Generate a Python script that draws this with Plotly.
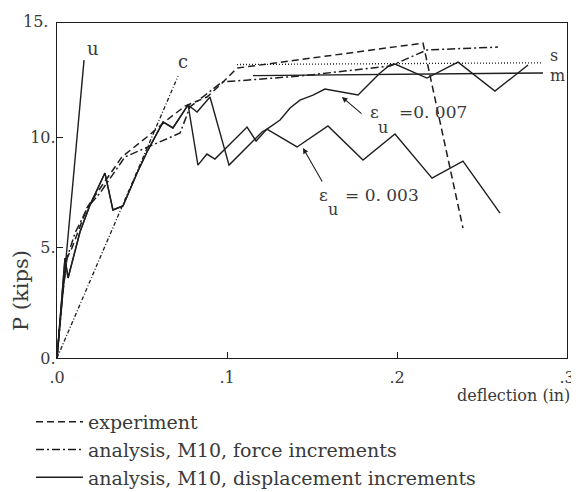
import plotly.graph_objects as go

# ---- data ----
exp_x = [0, 0.0029, 0.0059, 0.0088, 0.0176, 0.0206, 0.0382, 0.0529, 0.0647, 0.0753, 0.0882, 0.0959, 0.1059, 0.2153, 0.2388]
exp_y = [0, 2.62, 4.52, 4.98, 6.79, 7.15, 9.10, 10.0, 10.77, 11.40, 11.81, 12.35, 13.12, 14.25, 5.88]

force_x = [0, 0.0035, 0.0059, 0.0106, 0.0182, 0.0253, 0.040, 0.0724, 0.0782, 0.0859, 0.0971, 0.143, 0.1959, 0.2176, 0.2594]
force_y = [0, 3.08, 4.52, 5.66, 6.83, 7.47, 9.10, 10.18, 11.36, 11.81, 12.49, 12.76, 13.21, 13.94, 14.07]

disp007_x = [0, 0.0047, 0.0065, 0.0135, 0.0194, 0.0282, 0.0329, 0.0388, 0.0471, 0.0535, 0.0624, 0.0682, 0.0771,
             0.0824, 0.0900, 0.1012, 0.1206, 0.1235, 0.1312, 0.1371, 0.1429, 0.1506, 0.1576, 0.1676, 0.1771,
             0.1900, 0.1959, 0.1988, 0.2176, 0.2359, 0.2576, 0.2771]
disp007_y = [0, 4.52, 3.62, 5.70, 6.92, 8.37, 6.70, 6.88, 8.37, 9.41, 10.68, 10.41, 11.45,
             11.13, 11.81, 8.73, 10.23, 10.36, 10.77, 11.31, 11.67, 11.90, 12.17, 12.04, 11.90,
             12.90, 13.26, 13.30, 12.67, 13.39, 12.08, 13.26]

disp003_x = [0, 0.0047, 0.0065, 0.0135, 0.0194, 0.0282, 0.0329, 0.0388, 0.0471, 0.0535, 0.0624, 0.0682, 0.0771,
             0.0829, 0.0882, 0.0929, 0.1118, 0.1171, 0.1235, 0.1412, 0.1594, 0.1800, 0.1988, 0.2206, 0.2388, 0.2606]
disp003_y = [0, 4.52, 3.62, 5.70, 6.92, 8.37, 6.70, 6.88, 8.37, 9.41, 10.68, 10.41, 11.45,
             8.73, 9.23, 9.00, 10.45, 9.82, 10.36, 9.55, 10.50, 8.96, 10.14, 8.14, 8.91, 6.56]

u_x = [0, 0.0159]
u_y = [0, 13.48]
c_x = [0, 0.0712]
c_y = [0, 12.76]
s_x = [0.1059, 0.2859]
s_y = [13.28, 13.36]
m_x = [0.1153, 0.2859]
m_y = [12.78, 12.90]

x_ticks = [0, 0.1, 0.2, 0.3]
x_tick_text = [".0", ".1", ".2", ".3"]
y_ticks = [0, 5, 10]
y_tick_text = ["0.", "5.", "10."]

LINE = "#1e1e1e"
TXT = "#3a3a3a"
FONT = "DejaVu Serif"

fig = go.Figure()

fig.add_trace(go.Scatter(x=u_x, y=u_y, mode="lines", line=dict(color=LINE, width=1.4),
                         showlegend=False, hoverinfo="skip"))
fig.add_trace(go.Scatter(x=c_x, y=c_y, mode="lines", line=dict(color=LINE, width=1.3, dash="4px,2px,1px,2px"),
                         showlegend=False, hoverinfo="skip"))
fig.add_trace(go.Scatter(x=s_x, y=s_y, mode="lines", line=dict(color=LINE, width=1.3, dash="1px,2px"),
                         showlegend=False, hoverinfo="skip"))
fig.add_trace(go.Scatter(x=m_x, y=m_y, mode="lines", line=dict(color=LINE, width=1.4),
                         showlegend=False, hoverinfo="skip"))

fig.add_trace(go.Scatter(x=exp_x, y=exp_y, mode="lines", name="experiment",
                         line=dict(color=LINE, width=1.5, dash="7px,4px"),
                         legendgroup="a", hoverinfo="skip"))
fig.add_trace(go.Scatter(x=force_x, y=force_y, mode="lines", name="analysis, M10, force increments",
                         line=dict(color=LINE, width=1.5, dash="8px,3px,2px,3px"),
                         legendgroup="b", hoverinfo="skip"))
fig.add_trace(go.Scatter(x=disp007_x, y=disp007_y, mode="lines", name="analysis, M10, displacement increments",
                         line=dict(color=LINE, width=1.4),
                         legendgroup="c", hoverinfo="skip"))
fig.add_trace(go.Scatter(x=disp003_x, y=disp003_y, mode="lines",
                         line=dict(color=LINE, width=1.4),
                         legendgroup="c", showlegend=False, hoverinfo="skip"))

ann = []
def txt(x, y, t, size, xref="x", yref="y", xanchor="center", yanchor="middle", angle=0):
    ann.append(dict(x=x, y=y, xref=xref, yref=yref, text=t, showarrow=False,
                    xanchor=xanchor, yanchor=yanchor, textangle=angle,
                    font=dict(family=FONT, size=size, color=TXT)))

# curve labels
txt(0.0212, 14.0, "u", 18)
txt(0.0741, 13.4, "c", 18)
txt(0.2888, 13.68, "s", 16, xanchor="left")
txt(0.2888, 12.80, "m", 16, xanchor="left")
# epsilon labels
txt(0.1865, 11.13, "ε", 17)
txt(0.1918, 10.45, "u", 16)
txt(0.2000, 11.13, "=0. 007", 17, xanchor="left")
txt(0.1570, 7.38, "ε", 17)
txt(0.1624, 6.70, "u", 16)
txt(0.1683, 7.38, "= 0. 003", 17, xanchor="left")
# axis titles and the top tick label
txt(-0.0137, 1.040, "15.", 16, xref="paper", yref="paper", xanchor="right", yanchor="top")
txt(-0.0706, 0.203, "P (kips)", 21, xref="paper", yref="paper", angle=-90)
txt(1.010, -0.113, "deflection (in)", 16, xref="paper", yref="paper", xanchor="right")

# arrows
ann.append(dict(x=0.1676, y=11.81, xref="x", yref="y", ax=0.1800, ay=11.0, axref="x", ayref="y",
                showarrow=True, arrowhead=2, arrowsize=1, arrowwidth=1.1, arrowcolor=LINE, text=""))
ann.append(dict(x=0.1447, y=9.50, xref="x", yref="y", ax=0.1565, ay=7.92, axref="x", ayref="y",
                showarrow=True, arrowhead=2, arrowsize=1, arrowwidth=1.1, arrowcolor=LINE, text=""))

# the page body keeps an 8px margin, so the figure is 8px smaller than the window
fig.update_layout(
    width=571, height=484,
    margin=dict(l=49, r=12, t=15, b=134, autoexpand=False),
    paper_bgcolor="white", plot_bgcolor="white",
    annotations=ann,
    showlegend=True,
    legend=dict(x=23/571, y=1 - 395/484, xref="container", yref="container",
                xanchor="left", yanchor="top", itemwidth=47, tracegroupgap=0,
                traceorder="grouped",
                font=dict(family=FONT, size=19, color=TXT), bgcolor="rgba(0,0,0,0)"),
    xaxis=dict(range=[0, 0.3], tickvals=x_ticks, ticktext=x_tick_text, showgrid=False, zeroline=False,
               showline=True, linecolor=LINE, linewidth=1.4, mirror=True,
               ticks="inside", ticklen=6, tickcolor=LINE, tickwidth=1.2,
               ticklabelstandoff=5, ticklabeloverflow="allow",
               tickfont=dict(family=FONT, size=16, color=TXT)),
    yaxis=dict(range=[0, 15.16], tickvals=y_ticks, ticktext=y_tick_text, showgrid=False, zeroline=False,
               showline=True, linecolor=LINE, linewidth=1.4, mirror=True,
               ticks="inside", ticklen=6, tickcolor=LINE, tickwidth=1.2,
               ticklabelstandoff=-3, ticklabeloverflow="allow",
               tickfont=dict(family=FONT, size=16, color=TXT)),
)

fig.write_html("out.html", config={"displayModeBar": False})
